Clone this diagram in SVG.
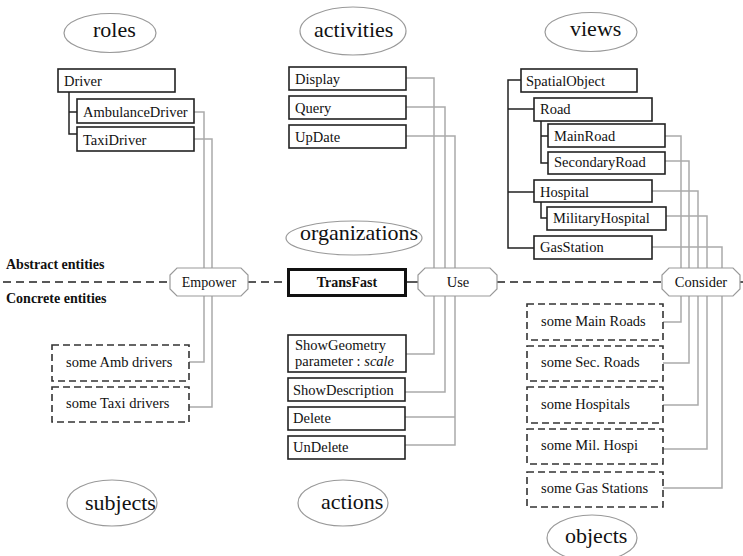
<svg xmlns="http://www.w3.org/2000/svg" width="743" height="556" viewBox="0 0 743 556" font-family="'Liberation Serif', 'Times New Roman', serif">
  <style>
    .lbl { font-family: 'Liberation Serif', 'Times New Roman', serif; font-size: 14.5px; fill: #111; }
    .big { font-family: 'Liberation Serif', 'Times New Roman', serif; font-size: 22px; fill: #111; }
    .bold { font-family: 'Liberation Serif', 'Times New Roman', serif; font-size: 14px; font-weight: bold; fill: #111; }
    .cat { fill: #fff; stroke: #999; stroke-width: 1.2; }
    .box { fill: #fff; stroke: #222; stroke-width: 1.6; }
    .inst { fill: #fff; stroke: #333; stroke-width: 1.6; stroke-dasharray: 7 4; }
    .hex { fill: #fff; stroke: #999; stroke-width: 1.2; }
    .link { fill: none; stroke: #aaa; stroke-width: 1.5; }
    .tree { fill: none; stroke: #222; stroke-width: 1.5; }
    .sep { fill: none; stroke: #222; stroke-width: 1.5; stroke-dasharray: 8 5; }
  </style>

  <!-- section labels -->
  <text class="bold" x="6" y="269">Abstract entities</text>
  <text class="bold" x="6" y="303">Concrete entities</text>

  <!-- connectors -->
  <g id="connectors">
    <path class="sep" d="M3 282H170M248 282H287M497 282H662M740 282H743"/>
    <path class="tree" d="M407 282H418"/>
    <!-- role hierarchy -->
    <path class="tree" d="M69 92V134H77M69 112H77"/>
    <!-- view hierarchy -->
    <path class="tree" d="M521 80H508V248H534M508 109H534M508 192H534"/>
    <path class="tree" d="M541 121V163H548M541 136H548"/>
    <path class="tree" d="M541 202V218H547"/>
    <!-- Empower -->
    <path class="link" d="M194 112H204V362H189"/>
    <path class="link" d="M194 139H212V407H189"/>
    <!-- Use -->
    <path class="link" d="M406 78H434V354H406"/>
    <path class="link" d="M406 107H445V392H405"/>
    <path class="link" d="M406 136H455V445H405M405 417H455"/>
    <!-- Consider -->
    <path class="link" d="M665 136H681V322H663"/>
    <path class="link" d="M665 161H689V363H663"/>
    <path class="link" d="M652 191H698V405H663"/>
    <path class="link" d="M666 216H707V449H663"/>
    <path class="link" d="M652 247H722V488H663"/>
  </g>

  <!-- categories -->
  <g id="roles"><ellipse class="cat" cx="110" cy="33" rx="46" ry="19.5"/><text class="big" x="93" y="37">roles</text></g>
  <g id="activities"><ellipse class="cat" cx="353" cy="31" rx="53" ry="24"/><text class="big" x="314" y="37">activities</text></g>
  <g id="views"><ellipse class="cat" cx="591" cy="32" rx="46" ry="19.5"/><text class="big" x="570" y="36">views</text></g>
  <g id="organizations"><ellipse class="cat" cx="354" cy="238" rx="68" ry="17"/><text class="big" x="300" y="240">organizations</text></g>
  <g id="subjects"><ellipse class="cat" cx="112" cy="503" rx="45" ry="23"/><text class="big" x="85" y="510">subjects</text></g>
  <g id="actions"><ellipse class="cat" cx="343" cy="503" rx="45" ry="23"/><text class="big" x="321" y="509">actions</text></g>
  <g id="objects"><ellipse class="cat" cx="592" cy="538" rx="45" ry="23"/><text class="big" x="565" y="543">objects</text></g>

  <!-- roles -->
  <g id="Driver"><rect class="box" x="58" y="69" width="117" height="23"/><text class="lbl" x="64" y="86">Driver</text></g>
  <g id="AmbulanceDriver"><rect class="box" x="77" y="99" width="117" height="24"/><text class="lbl" x="83" y="117">AmbulanceDriver</text></g>
  <g id="TaxiDriver"><rect class="box" x="77" y="127" width="117" height="24"/><text class="lbl" x="83" y="145">TaxiDriver</text></g>

  <!-- activities -->
  <g id="Display"><rect class="box" x="289" y="67" width="117" height="23"/><text class="lbl" x="295" y="84">Display</text></g>
  <g id="Query"><rect class="box" x="289" y="96" width="117" height="23"/><text class="lbl" x="295" y="113">Query</text></g>
  <g id="UpDate"><rect class="box" x="289" y="125" width="117" height="23"/><text class="lbl" x="295" y="142">UpDate</text></g>

  <!-- views -->
  <g id="SpatialObject"><rect class="box" x="521" y="69" width="116" height="23"/><text class="lbl" x="526" y="86">SpatialObject</text></g>
  <g id="Road"><rect class="box" x="534" y="98" width="118" height="23"/><text class="lbl" x="540" y="114">Road</text></g>
  <g id="MainRoad"><rect class="box" x="548" y="124" width="117" height="23"/><text class="lbl" x="554" y="141">MainRoad</text></g>
  <g id="SecondaryRoad"><rect class="box" x="548" y="152" width="117" height="22"/><text class="lbl" x="554" y="167">SecondaryRoad</text></g>
  <g id="Hospital"><rect class="box" x="534" y="180" width="118" height="22"/><text class="lbl" x="540" y="197">Hospital</text></g>
  <g id="MilitaryHospital"><rect class="box" x="547" y="207" width="119" height="23"/><text class="lbl" x="553" y="223">MilitaryHospital</text></g>
  <g id="GasStation"><rect class="box" x="534" y="236" width="118" height="23"/><text class="lbl" x="540" y="252">GasStation</text></g>

  <!-- relations -->
  <g id="Empower"><polygon class="hex" points="177,268 241,268 248,275 248,289 241,296 177,296 170,289 170,275"/><text class="lbl" x="209" y="287" text-anchor="middle" style="font-size:14px">Empower</text></g>
  <g id="TransFast"><rect x="288.5" y="269.5" width="117" height="26" fill="#fff" stroke="#111" stroke-width="3"/><text class="bold" x="347" y="287" text-anchor="middle">TransFast</text></g>
  <g id="Use"><polygon class="hex" points="425,268 490,268 497,275 497,289 490,296 425,296 418,289 418,275"/><text class="lbl" x="458" y="287" text-anchor="middle">Use</text></g>
  <g id="Consider"><polygon class="hex" points="669,268 733,268 740,275 740,289 733,296 669,296 662,289 662,275"/><text class="lbl" x="701" y="287" text-anchor="middle">Consider</text></g>

  <!-- actions -->
  <g id="ShowGeometry"><rect class="box" x="288" y="335" width="118" height="37"/><text class="lbl" x="295" y="350">ShowGeometry</text><text class="lbl" x="295" y="366">parameter : <tspan font-style="italic">scale</tspan></text></g>
  <g id="ShowDescription"><rect class="box" x="288" y="378" width="117" height="23"/><text class="lbl" x="293" y="395">ShowDescription</text></g>
  <g id="Delete"><rect class="box" x="288" y="407" width="117" height="23"/><text class="lbl" x="293" y="423">Delete</text></g>
  <g id="UnDelete"><rect class="box" x="288" y="436" width="117" height="23"/><text class="lbl" x="293" y="452">UnDelete</text></g>

  <!-- subjects -->
  <g id="someAmbDrivers"><rect class="inst" x="52" y="345" width="137" height="36"/><text class="lbl" x="66" y="367">some Amb drivers</text></g>
  <g id="someTaxiDrivers"><rect class="inst" x="52" y="387" width="137" height="35"/><text class="lbl" x="66" y="408">some Taxi drivers</text></g>

  <!-- objects -->
  <g id="someMainRoads"><rect class="inst" x="527" y="304" width="136" height="36"/><text class="lbl" x="541" y="326">some Main Roads</text></g>
  <g id="someSecRoads"><rect class="inst" x="527" y="346" width="136" height="35"/><text class="lbl" x="541" y="367">some Sec. Roads</text></g>
  <g id="someHospitals"><rect class="inst" x="527" y="387" width="136" height="36"/><text class="lbl" x="541" y="409">some Hospitals</text></g>
  <g id="someMilHospi"><rect class="inst" x="527" y="429" width="136" height="35"/><text class="lbl" x="541" y="450">some Mil. Hospi</text></g>
  <g id="someGasStations"><rect class="inst" x="527" y="472" width="136" height="35"/><text class="lbl" x="541" y="493">some Gas Stations</text></g>
</svg>
